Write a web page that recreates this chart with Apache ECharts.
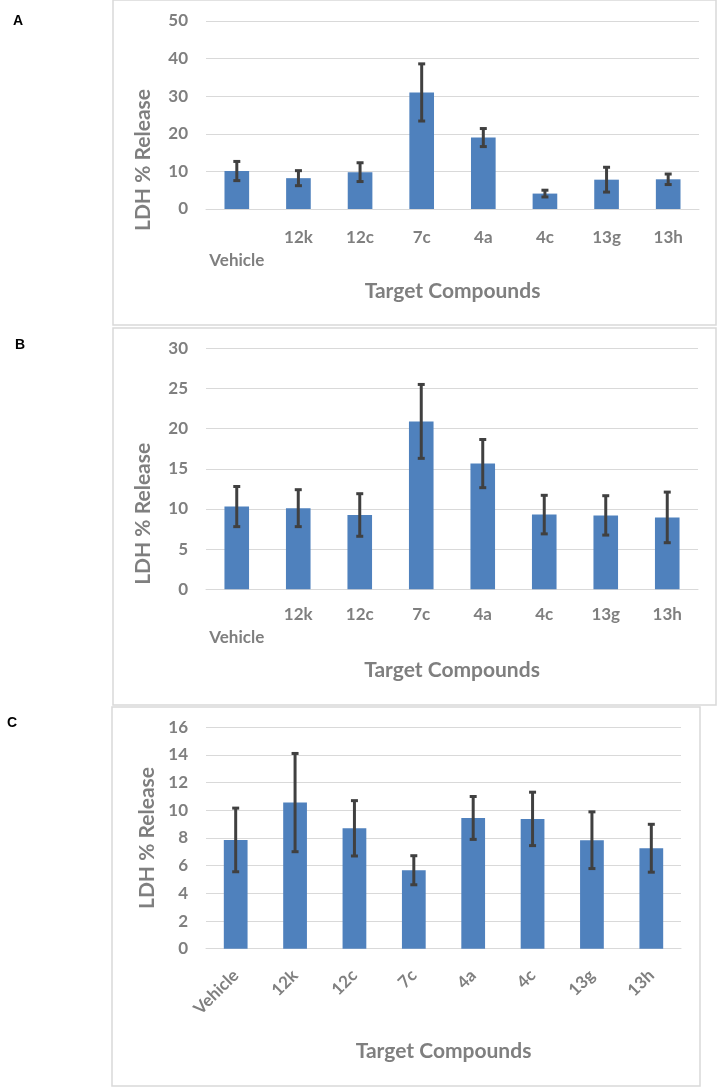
<!DOCTYPE html>
<html>
<head>
<meta charset="utf-8">
<script src="https://cdn.jsdelivr.net/npm/echarts@6/dist/echarts.min.js"></script>
<style>
html,body{margin:0;padding:0;background:#fff;}
#chart{width:718px;height:1090px;}
</style>
</head>
<body>
<div id="chart"></div>
<script>
// ---- data ----
const categories = ['Vehicle', '12k', '12c', '7c', '4a', '4c', '13g', '13h'];
const meanA = [10.1, 8.2, 9.8, 31.0, 19.0, 4.1, 7.8, 7.9];
const errA  = [2.55, 2.0, 2.5, 7.6, 2.4, 0.9, 3.3, 1.4];
const meanB = [10.3, 10.1, 9.25, 20.9, 15.65, 9.3, 9.2, 8.95];
const errB  = [2.5, 2.3, 2.65, 4.6, 3.0, 2.4, 2.45, 3.15];
const meanC = [7.86, 10.56, 8.7, 5.67, 9.45, 9.38, 7.84, 7.26];
const errC  = [2.3, 3.55, 2.0, 1.05, 1.55, 1.93, 2.05, 1.73];
const yTicksA = [0, 10, 20, 30, 40, 50];
const yTicksB = [0, 5, 10, 15, 20, 25, 30];
const yTicksC = [0, 2, 4, 6, 8, 10, 12, 14, 16];
const panelLetters = ['A', 'B', 'C'];
const yTitle = 'LDH % Release';
const xTitle = 'Target Compounds';

// ---- styles ----
const FONT = 'Lato';
const GRAY = '#7f7f7f';
const BAR = '#4f81bd';
const GRID = '#d9d9d9';
const ERR = '#404040';

const chart = echarts.init(document.getElementById('chart'), null, {renderer: 'canvas'});

function errData(mean, err) {
  return mean.map((m, i) => [i, m - err[i], m + err[i]]);
}
function renderErr(params, api) {
  const x = api.value(0);
  const lo = api.coord([x, api.value(1)]);
  const hi = api.coord([x, api.value(2)]);
  const hw = 3.5;
  const st = {stroke: ERR, lineWidth: 3};
  return {
    type: 'group',
    children: [
      {type: 'line', shape: {x1: lo[0], y1: lo[1], x2: hi[0], y2: hi[1]}, style: st},
      {type: 'line', shape: {x1: lo[0] - hw, y1: lo[1], x2: lo[0] + hw, y2: lo[1]}, style: st},
      {type: 'line', shape: {x1: hi[0] - hw, y1: hi[1], x2: hi[0] + hw, y2: hi[1]}, style: st}
    ]
  };
}

const grids = [
  {left: 206, width: 493, top: 21, height: 188},
  {left: 206, width: 492, top: 348.3, height: 241},
  {left: 206, width: 475, top: 727.3, height: 221.4}
];
const yTicks = [yTicksA, yTicksB, yTicksC];
const means = [meanA, meanB, meanC];
const errs = [errA, errB, errC];
const xNameGap = [72, 70, 92];
const yNameGap = [52, 52, 47];
const yNamePad = [[0, 90, 0, 0], [0, 90, 0, 0], [0, 0, 0, 0]];

const xAxes = grids.map((g, i) => {
  const rotated = i === 2;
  return {
    type: 'category',
    gridIndex: i,
    data: categories,
    axisLine: {show: true, lineStyle: {color: GRID, width: 1}},
    axisTick: {show: false},
    axisLabel: rotated ? {
      rotate: 45, margin: 24, interval: 0,
      color: GRAY, fontFamily: FONT, fontWeight: 'bold', fontSize: 17
    } : {
      interval: 0, margin: i === 0 ? 17 : 14, lineHeight: 23,
      color: GRAY, fontFamily: FONT, fontWeight: 'bold', fontSize: 17,
      formatter: (v, idx) => idx === 0 ? '\n' + v : v
    },
    name: xTitle,
    nameLocation: 'middle',
    nameGap: xNameGap[i],
    nameTextStyle: {color: GRAY, fontFamily: FONT, fontWeight: 'bold', fontSize: 21}
  };
});

const yAxes = grids.map((g, i) => {
  const t = yTicks[i];
  return {
    type: 'value',
    gridIndex: i,
    min: t[0],
    max: t[t.length - 1],
    interval: t[1] - t[0],
    axisLine: {show: false},
    axisTick: {show: false},
    splitLine: {lineStyle: {color: GRID, width: 1}},
    axisLabel: {margin: 18, color: GRAY, fontFamily: FONT, fontWeight: 'bold', fontSize: 17},
    name: yTitle,
    nameLocation: 'middle',
    nameRotate: 90,
    nameGap: yNameGap[i],
    nameTextStyle: {color: GRAY, fontFamily: FONT, fontWeight: 'bold', fontSize: 21, padding: yNamePad[i]}
  };
});

const series = [];
grids.forEach((g, i) => {
  series.push({
    type: 'bar',
    xAxisIndex: i, yAxisIndex: i,
    data: means[i],
    barWidth: '40%',
    itemStyle: {color: BAR},
    silent: true
  });
  series.push({
    type: 'custom',
    xAxisIndex: i, yAxisIndex: i,
    data: errData(means[i], errs[i]),
    encode: {x: 0, y: [1, 2]},
    renderItem: renderErr,
    z: 5,
    silent: true
  });
});

const borders = [
  {x: 113, y: 0, width: 603, height: 325},
  {x: 113, y: 328, width: 603, height: 377},
  {x: 112, y: 707, width: 588, height: 379}
];
const letterPos = [[18, 21], [20, 345.5], [12, 723.5]];

const graphic = [];
borders.forEach(b => graphic.push({
  type: 'rect', shape: b, silent: true,
  style: {fill: 'none', stroke: GRID, lineWidth: 1.5}
}));
panelLetters.forEach((L, i) => graphic.push({
  type: 'text', x: letterPos[i][0], y: letterPos[i][1], silent: true,
  style: {text: L, fill: '#000', font: 'bold 14px "Liberation Sans", Arial', align: 'center', verticalAlign: 'middle'}
}));

chart.setOption({
  animation: false,
  backgroundColor: '#fff',
  grid: grids,
  xAxis: xAxes,
  yAxis: yAxes,
  series: series,
  graphic: graphic
});
</script>
</body>
</html>
